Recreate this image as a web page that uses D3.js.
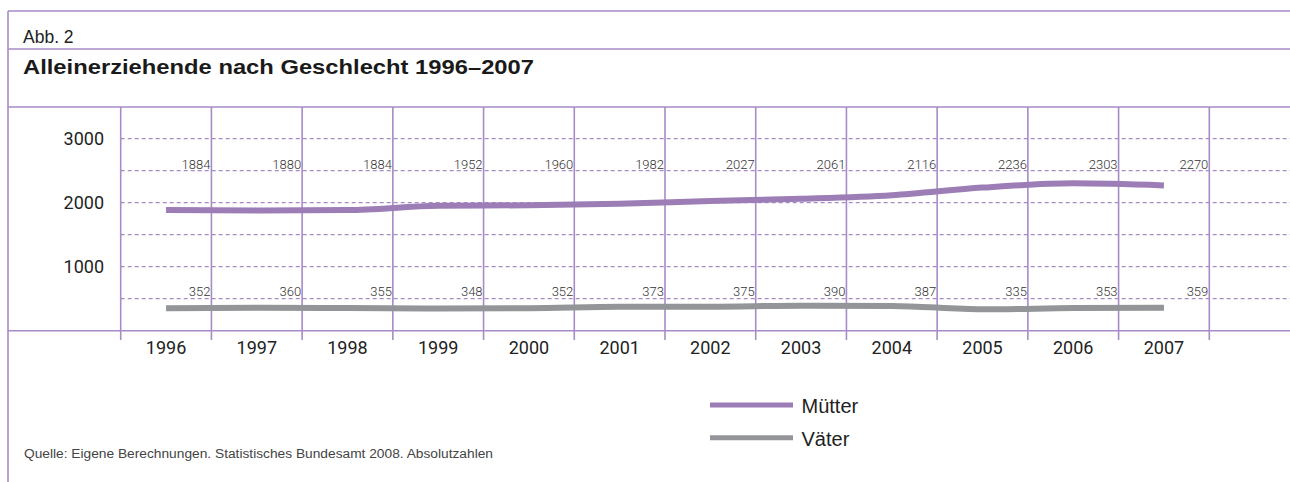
<!DOCTYPE html>
<html>
  <head>
    <meta charset="UTF-8">
    <title>Alleinerziehende nach Geschlecht</title>
    <script src="https://d3js.org/d3.v7.min.js"></script>
    <style>
      body { margin: 0; background: #fff; }
      svg { display: block; }
    </style>
  </head>
  <body>
    <svg width="1290" height="482"></svg>
    <script>
      const years = ["1996", "1997", "1998", "1999", "2000", "2001", "2002", "2003", "2004", "2005", "2006", "2007"];
      const muetter = [1884, 1880, 1884, 1952, 1960, 1982, 2027, 2061, 2116, 2236, 2303, 2270];
      const vaeter = [352, 360, 355, 348, 352, 373, 375, 390, 387, 335, 353, 359];
      const yTicks = [1000, 2000, 3000];
      const gridValues = [500, 1000, 1500, 2000, 2500, 3000];

      const width = 1290;
      const frameColor = "#a68bc6";
      const purple = "#9c7db6";
      const grey = "#939598";

      const svg = d3.select("svg");

      const x = d3.scaleBand().domain(years).range([120.7, 1209.3]);
      const y = d3.scaleLinear().domain([0, 3000]).range([330.7, 138.7]);

      // frame lines
      const frame = svg.append("g")
        .attr("stroke", frameColor)
        .attr("stroke-width", 1.6);
      frame.append("line").attr("x1", 8).attr("x2", 8).attr("y1", 11).attr("y2", 482);
      [11, 49, 107].forEach(yy => {
        frame.append("line").attr("x1", 8).attr("x2", width).attr("y1", yy).attr("y2", yy);
      });

      svg.append("text")
        .attr("x", 23).attr("y", 42.5)
        .attr("font-family", "Liberation Sans, Arial, sans-serif")
        .attr("font-size", 17.5)
        .attr("fill", "#222")
        .text("Abb. 2");

      svg.append("text")
        .attr("x", 23).attr("y", 73.5)
        .attr("font-family", "Liberation Sans, Arial, sans-serif")
        .attr("font-weight", "bold")
        .attr("font-size", 21)
        .attr("fill", "#1a1a1a")
        .attr("textLength", 511)
        .attr("lengthAdjust", "spacingAndGlyphs")
        .text("Alleinerziehende nach Geschlecht 1996–2007");

      // dashed horizontal grid
      svg.append("g")
        .selectAll("line")
        .data(gridValues)
        .join("line")
        .attr("x1", x.range()[0])
        .attr("x2", width)
        .attr("y1", d => y(d))
        .attr("y2", d => y(d))
        .attr("stroke", frameColor)
        .attr("stroke-width", 1.2)
        .attr("stroke-dasharray", "4,3");

      // vertical category lines
      const bounds = years.map(d => x(d)).concat([x.range()[1]]);
      svg.append("g")
        .selectAll("line")
        .data(bounds)
        .join("line")
        .attr("x1", d => d)
        .attr("x2", d => d)
        .attr("y1", 107)
        .attr("y2", 340)
        .attr("stroke", frameColor)
        .attr("stroke-width", 1.6);

      // x axis baseline
      svg.append("line")
        .attr("x1", 8).attr("x2", width)
        .attr("y1", y(0)).attr("y2", y(0))
        .attr("stroke", frameColor)
        .attr("stroke-width", 1.6);

      // y axis labels
      const yAxis = svg.append("g")
        .attr("transform", "translate(106,0)")
        .call(d3.axisLeft(y).tickValues(yTicks).tickSize(0).tickPadding(2).tickFormat(d3.format("d")));
      yAxis.select(".domain").remove();
      yAxis.selectAll("text")
        .attr("font-family", "Roboto, sans-serif")
        .attr("font-size", 18)
        .attr("fill", "#222");

      // x axis labels
      const xAxis = svg.append("g")
        .attr("transform", `translate(0,${y(0)})`)
        .call(d3.axisBottom(x).tickSize(0).tickPadding(11));
      xAxis.select(".domain").remove();
      xAxis.selectAll("text")
        .attr("font-family", "Roboto, sans-serif")
        .attr("font-size", 18)
        .attr("fill", "#222");

      const line = d3.line()
        .x((d, i) => x(years[i]) + x.bandwidth() / 2)
        .y(d => y(d))
        .curve(d3.curveMonotoneX);

      svg.append("path")
        .datum(vaeter)
        .attr("d", line)
        .attr("fill", "none")
        .attr("stroke", grey)
        .attr("stroke-width", 6);

      svg.append("path")
        .datum(muetter)
        .attr("d", line)
        .attr("fill", "none")
        .attr("stroke", purple)
        .attr("stroke-width", 6);

      // value labels
      const labelRows = [
        { values: muetter, base: y(2500) - 2 },
        { values: vaeter, base: y(500) - 3 }
      ];
      labelRows.forEach(row => {
        svg.append("g")
          .selectAll("text")
          .data(row.values)
          .join("text")
          .attr("x", (d, i) => x(years[i]) + x.bandwidth() - 1)
          .attr("y", row.base)
          .attr("text-anchor", "end")
          .attr("font-family", "Roboto, sans-serif")
          .attr("font-weight", 300)
          .attr("font-size", 13)
          .attr("fill", "#333")
          .text(d => d);
      });

      // legend
      const legend = [
        { name: "Mütter", color: purple, y: 405 },
        { name: "Väter", color: grey, y: 437.7 }
      ];
      const lg = svg.append("g");
      legend.forEach(l => {
        lg.append("line")
          .attr("x1", 710).attr("x2", 793)
          .attr("y1", l.y).attr("y2", l.y)
          .attr("stroke", l.color)
          .attr("stroke-width", 5);
        lg.append("text")
          .attr("x", 801.5).attr("y", l.y + 8)
          .attr("font-family", "Liberation Sans, Arial, sans-serif")
          .attr("font-size", 20)
          .attr("fill", "#222")
          .text(l.name);
      });

      svg.append("text")
        .attr("x", 24).attr("y", 458)
        .attr("font-family", "Liberation Sans, Arial, sans-serif")
        .attr("font-size", 12.5)
        .attr("fill", "#444")
        .attr("textLength", 469)
        .attr("lengthAdjust", "spacingAndGlyphs")
        .text("Quelle: Eigene Berechnungen. Statistisches Bundesamt 2008. Absolutzahlen");
    </script>
  </body>
</html>
